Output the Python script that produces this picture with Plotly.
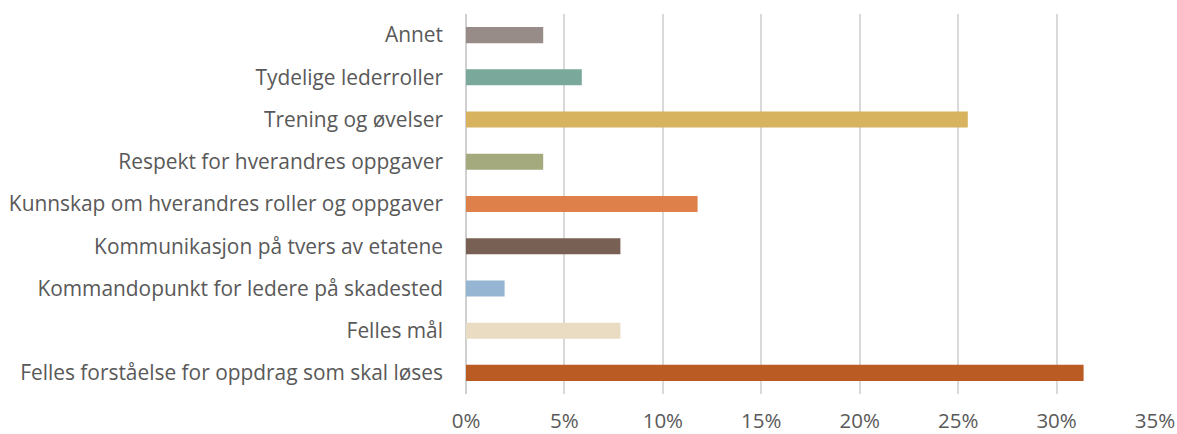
import plotly.graph_objects as go

# Categories listed bottom to top
categories = [
    "Felles forståelse for oppdrag som skal løses",
    "Felles mål",
    "Kommandopunkt for ledere på skadested",
    "Kommunikasjon på tvers av etatene",
    "Kunnskap om hverandres roller og oppgaver",
    "Respekt for hverandres oppgaver",
    "Trening og øvelser",
    "Tydelige lederroller",
    "Annet",
]
counts = [16, 4, 1, 4, 6, 2, 13, 3, 2]
total = 51
shares = [c / total for c in counts]
colors = [
    "#BA5B24", "#E9DCC3", "#95B5D3", "#786054", "#DD8049",
    "#A4AA7E", "#D8B35F", "#7AA89B", "#988C89",
]
tick_vals = [0, 0.05, 0.10, 0.15, 0.20, 0.25, 0.30, 0.35]
tick_text = ["0%", "5%", "10%", "15%", "20%", "25%", "30%", "35%"]

fig = go.Figure(
    go.Bar(
        x=shares,
        y=categories,
        orientation="h",
        marker=dict(color=colors, line=dict(width=0)),
        hoverinfo="skip",
    )
)

fig.update_layout(
    width=1177,
    height=434,
    margin=dict(l=466, r=22, t=14, b=40, autoexpand=False),
    paper_bgcolor="white",
    plot_bgcolor="white",
    bargap=0.62,
    showlegend=False,
    font=dict(family="Open Sans", size=20, color="#595959"),
)
fig.update_xaxes(
    automargin=False,
    range=[0, 0.35],
    tickvals=tick_vals,
    ticktext=tick_text,
    showgrid=True,
    gridcolor="#D9D9D9",
    gridwidth=2,
    zeroline=True,
    zerolinecolor="#D0D0D0",
    zerolinewidth=2,
    showline=False,
    ticks="",
    ticklabelstandoff=12,
    tickfont=dict(size=20.5, color="#595959"),
)
fig.update_yaxes(
    automargin=False,
    type="category",
    categoryorder="array",
    categoryarray=categories,
    showgrid=False,
    ticks="",
    ticklabelstandoff=22,
    tickfont=dict(size=20.9, color="#595959"),
)

fig.write_html("out.html")
